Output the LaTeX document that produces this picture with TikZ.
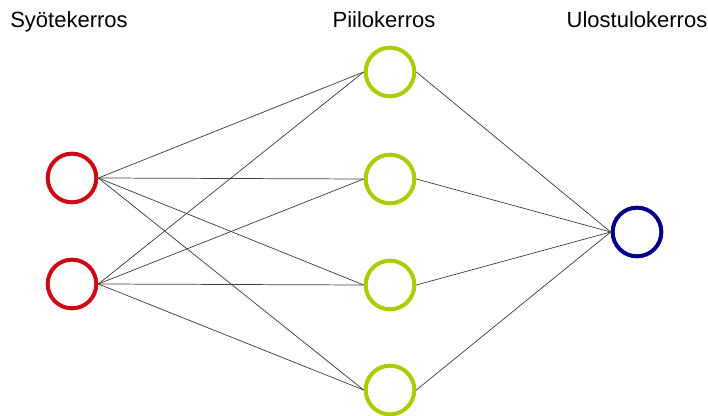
\documentclass[tikz,border=0pt]{standalone}
\usepackage{fontspec}
\setmainfont{Liberation Sans}
\definecolor{inred}{RGB}{204,10,20}
\definecolor{hidgreen}{RGB}{170,204,0}
\definecolor{outblue}{RGB}{0,0,140}
\begin{document}
\begin{tikzpicture}[x=0.75pt,y=-0.75pt,
  neuron/.style={circle,line width=3pt,minimum size=36.5pt,inner sep=0pt,fill=white},
  inn/.style={neuron,draw=inred},
  hid/.style={neuron,draw=hidgreen},
  outn/.style={neuron,draw=outblue},
  conn/.style={line width=0.55pt,draw=black!75},
  lbl/.style={font=\fontsize{16.5pt}{18pt}\selectfont,inner sep=0pt}]
\useasboundingbox (0,0) rectangle (708,416);
\node[inn] (i1) at (72,178) {};
\node[inn] (i2) at (72,284) {};
\node[hid] (h1) at (390,72) {};
\node[hid] (h2) at (390,179) {};
\node[hid] (h3) at (390,285) {};
\node[hid] (h4) at (390,390) {};
\node[outn] (o) at (637,232) {};
\foreach \i in {i1,i2}{
  \foreach \h in {h1,h2,h3,h4}{
    \draw[conn] (\i.east) -- (\h.west);
  }
}
\foreach \h in {h1,h2,h3,h4}{
  \draw[conn] (\h.east) -- (o.west);
}
\node[lbl,anchor=base west] (t1) at (10,28) {Syötekerros};
\node[lbl,anchor=base] (t2) at (384,28) {Piilokerros};
\node[lbl,anchor=base] (t3) at (637,28) {Ulostulokerros};
\end{tikzpicture}
\end{document}
